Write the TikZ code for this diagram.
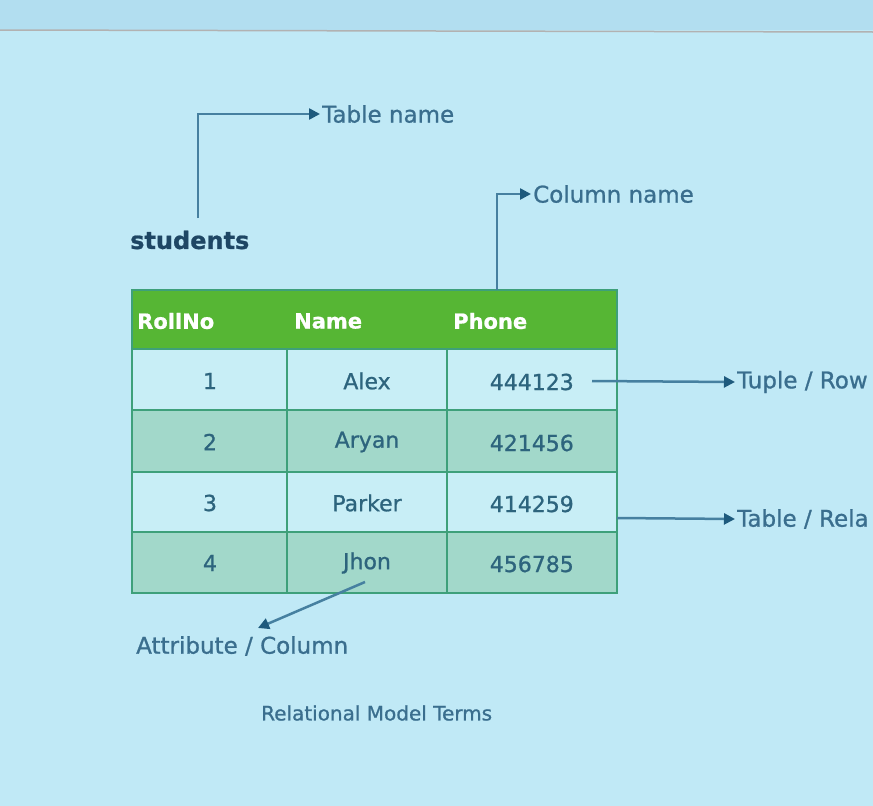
\documentclass[tikz,border=0pt]{standalone}
\usepackage{fontspec}
\setmainfont{DejaVu Sans}[FakeBold=0.9]
\usetikzlibrary{arrows.meta}
\definecolor{bg}{RGB}{192,233,246}
\definecolor{bgtop}{RGB}{178,222,240}
\definecolor{hdr}{RGB}{86,182,52}
\definecolor{rowlight}{RGB}{200,238,246}
\definecolor{rowgreen}{RGB}{162,216,202}
\definecolor{gridc}{RGB}{62,160,122}
\definecolor{conn}{RGB}{70,128,160}
\definecolor{tipc}{RGB}{30,90,125}
\definecolor{lbl}{RGB}{58,110,142}
\definecolor{celltxt}{RGB}{45,100,125}
\definecolor{title}{RGB}{30,70,100}
\tikzset{
  lab/.style={font=\fontsize{23}{27}\selectfont, text=lbl, inner sep=2pt, anchor=west},
  hdrtxt/.style={font=\fontsize{21}{25}\selectfont\bfseries, text=white, inner sep=0pt, anchor=west},
  cell/.style={font=\fontsize{22}{26}\selectfont, text=celltxt, inner sep=0pt},
  connector/.style={draw=conn, line width=2.5pt, -{Triangle[length=11pt,width=11pt,color=tipc]}},
  gridline/.style={draw=gridc, line width=2.5pt}
}
\begin{document}
\begin{tikzpicture}[x=1pt,y=-1pt]
\useasboundingbox (0,0) rectangle (873,806);
\clip (0,0) rectangle (873,806);
\fill[bg] (0,0) rectangle (873,806);
\fill[bgtop] (0,0) rectangle (873,30);
\draw[color=gray!60, line width=1.5pt] (0,30) -- (873,32);

% table fills
\fill[hdr] (132,290) rectangle (617,349);
\fill[rowlight] (132,349) rectangle (617,410);
\fill[rowgreen] (132,410) rectangle (617,472);
\fill[rowlight] (132,472) rectangle (617,532);
\fill[rowgreen] (132,532) rectangle (617,593);
% grid
\draw[gridline] (132,290) rectangle (617,593);
\foreach \yy in {349,410,472,532} \draw[gridline] (132,\yy) -- (617,\yy);
\foreach \xx in {287,447} \draw[gridline] (\xx,349) -- (\xx,593);

% header
\node[hdrtxt] (h1) at (137,321) {RollNo};
\node[hdrtxt] (h2) at (294,321) {Name};
\node[hdrtxt] (h3) at (453,321) {Phone};
% rows
\node[cell] (r1a) at (210,381) {1};
\node[cell] (r1b) at (367,381) {Alex};
\node[cell, anchor=east] (r1c) at (574,382) {444123};
\node[cell] (r2a) at (210,442) {2};
\node[cell] (r2b) at (367,442) {Aryan};
\node[cell, anchor=east] (r2c) at (574,443) {421456};
\node[cell] (r3a) at (210,503) {3};
\node[cell] (r3b) at (367,503) {Parker};
\node[cell, anchor=east] (r3c) at (574,504) {414259};
\node[cell] (r4a) at (210,563) {4};
\node[cell] (r4b) at (367,563) {Jhon};
\node[cell, anchor=east] (r4c) at (574,564) {456785};

% labels
\node[font=\fontsize{24}{28}\selectfont\bfseries, text=title, inner sep=0pt, anchor=west] (stu) at (130,240) {students};
\node[lab] (tn) at (320,114) {Table name};
\node[lab] (cn) at (531,194) {Column name};
\node[lab] (tr) at (735,382) {Tuple / Row};
\node[lab] (trel) at (735,519) {Table / Rela};
\node[lab] (ac) at (134,646) {Attribute / Column};
\node[font=\fontsize{20}{24}\selectfont, text=lbl, inner sep=0pt, anchor=west] (rmt) at (261,713) {Relational Model Terms};

% connectors
\coordinate (tnstart) at (198,218);
\coordinate (cnstart) at (497,290);
\coordinate (trstart) at (592,381);
\coordinate (trelstart) at (617,518);
\coordinate (acstart) at (365,582);
\coordinate (acend) at (258,628);
\draw[connector] (tnstart) |- (tn.west);
\draw[connector] (cnstart) |- (cn.west);
\draw[connector] (trstart) -- (tr.west);
\draw[connector] (trelstart) -- (trel.west);
\draw[connector] (acstart) -- (acend);
\end{tikzpicture}
\end{document}
